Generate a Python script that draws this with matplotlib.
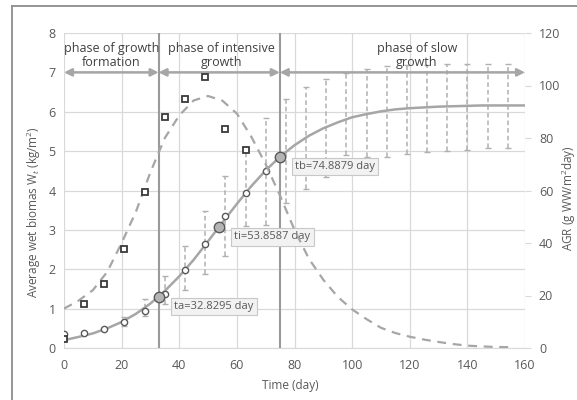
import matplotlib
matplotlib.use("Agg")
import matplotlib.pyplot as plt
from matplotlib.lines import Line2D

plt.rcParams['font.family'] = ['Open Sans', 'DejaVu Sans']
plt.rcParams['mathtext.fontset'] = 'custom'
plt.rcParams['mathtext.rm'] = 'Open Sans'
plt.rcParams['mathtext.it'] = 'Open Sans:italic'

# ---- data -----------------------------------------------------------------
# fitted growth curve W(t), kg/m2
t_fit = [0, 5, 10, 15, 20, 25, 30, 35, 40, 45, 50, 55, 60, 65, 70, 75, 80,
         85, 90, 95, 100, 105, 110, 115, 120, 125, 130, 135, 140, 145, 150,
         155, 160]
w_fit = [0.20, 0.28, 0.37, 0.50, 0.66, 0.87, 1.13, 1.45, 1.82, 2.24, 2.71,
         3.19, 3.66, 4.11, 4.51, 4.86, 5.15, 5.39, 5.58, 5.73, 5.86, 5.94,
         6.01, 6.06, 6.09, 6.11, 6.13, 6.14, 6.15, 6.16, 6.16, 6.16, 6.16]

# absolute growth rate curve, g WW/m2/day
t_agr = [0, 5, 10, 15, 20, 25, 30, 35, 40, 45, 50, 55, 60, 65, 70, 75, 80,
         85, 90, 95, 100, 105, 110, 115, 120, 125, 130, 135, 140, 145, 150,
         155]
agr_fit = [15.0, 18.0, 22.0, 29.0, 40.0, 52.0, 67.0, 80.0, 88.6, 94.3, 96.0,
           94.2, 89.3, 80.5, 70.0, 58.0, 45.0, 34.0, 26.0, 19.5, 14.7, 11.0,
           7.7, 5.7, 4.3, 3.2, 2.3, 1.5, 0.9, 0.6, 0.4, 0.3]

# measured mean biomass
t_obs = [0, 7, 14, 21, 28, 35, 42, 49, 56, 63, 70]
w_obs = [0.35, 0.37, 0.49, 0.66, 0.93, 1.36, 1.97, 2.64, 3.36, 3.94, 4.49]

# measured growth rate
t_sq = [0, 7, 14, 21, 28, 35, 42, 49, 56, 63]
agr_obs = [3.6, 16.6, 24.2, 37.7, 59.5, 88.1, 94.8, 103.4, 83.4, 75.4]

# spread of measured biomass (min / max)
err_t = [21, 28, 35, 42, 49, 56, 63, 70, 77, 84, 91, 98, 105, 112, 119, 126,
         133, 140, 147, 154]
err_lo = [0.55, 0.81, 1.12, 1.47, 1.88, 2.34, 3.10, 3.12, 3.69, 4.05, 4.35,
          4.90, 4.84, 4.84, 4.92, 4.98, 5.01, 5.04, 5.07, 5.07]
err_hi = [0.80, 1.24, 1.82, 2.59, 3.48, 4.37, 5.00, 5.83, 6.32, 6.64, 6.84,
          6.98, 7.08, 7.16, 7.18, 7.18, 7.21, 7.21, 7.21, 7.21]

# characteristic points of the growth curve
t_key = [32.8295, 53.8587, 74.8879]
w_key = [1.30, 3.07, 4.86]
key_names = ["ta", "ti", "tb"]

phase_bounds = [0, 32.8295, 74.8879, 160]
phase_names = ["phase of growth\nformation", "phase of intensive\ngrowth",
               "phase of slow\ngrowth"]
phase_text_x = [16.4, 54.5, 122.5]

x_ticks = [0, 20, 40, 60, 80, 100, 120, 140, 160]
y_ticks = [0, 1, 2, 3, 4, 5, 6, 7, 8]
y2_ticks = [0, 20, 40, 60, 80, 100, 120]

# ---- figure ---------------------------------------------------------------
GRID = '#d9d9d9'
TXT = '#595959'
LINE = '#a6a6a6'

fig = plt.figure(figsize=(5.77, 4.0), dpi=100)
ax = fig.add_axes([0.1109, 0.13, 0.799, 0.7875])
ax2 = ax.twinx()

ax.set_xlim(0, 160)
ax.set_ylim(0, 8)
ax2.set_ylim(0, 120)
ax.set_xticks(x_ticks)
ax.set_yticks(y_ticks)
ax2.set_yticks(y2_ticks)

ax.grid(True, color=GRID, lw=0.9)
ax.set_axisbelow(True)
for a in (ax, ax2):
    for s in ('top', 'left', 'right'):
        a.spines[s].set_visible(False)
    a.spines['bottom'].set_color(GRID)
ax2.spines['bottom'].set_visible(False)

ax.tick_params(axis='both', length=0, labelsize=9, labelcolor=TXT, pad=6)
ax.tick_params(axis='x', pad=8)
ax2.tick_params(axis='y', length=4, color=GRID, labelsize=9, labelcolor=TXT,
                pad=6)

# phase separators
for tb_ in t_key[::2]:
    ax.axvline(tb_, color='#9a9a9a', lw=1.5, zorder=2)

# AGR curve (right axis)
ax2.plot(t_agr, agr_fit, color=LINE, lw=1.6, ls=(0, (4, 3)), zorder=2)

# error bars
mid = [(lo + hi) / 2 for lo, hi in zip(err_lo, err_hi)]
yerr = [[m - lo for m, lo in zip(mid, err_lo)],
        [hi - m for m, hi in zip(mid, err_hi)]]
eb = ax.errorbar(err_t, mid, yerr=yerr, fmt='none', ecolor='#b0b0b0',
                 elinewidth=1.1, capsize=2.5, capthick=1.0, zorder=3)
eb[2][0].set_linestyle((0, (3, 2)))

# fitted biomass curve
ax.plot(t_fit, w_fit, color=LINE, lw=1.8, zorder=4)

# observations
ax.plot(t_obs, w_obs, ls='none', marker='o', ms=4.5, mfc='white',
        mec='#595959', mew=1.0, zorder=5)
ax2.plot(t_sq, agr_obs, ls='none', marker='s', ms=4.3, mfc='white',
         mec='#3a3a3a', mew=1.3, zorder=5)

# key points + callouts
ax.plot(t_key, w_key, ls='none', marker='o', ms=7.5, mfc='#b4b4b4',
        mec='#595959', mew=1.0, zorder=6)
for name, tk, wk in zip(key_names, t_key, w_key):
    ax.annotate(f"{name}={tk:g} day", xy=(tk, wk), xytext=(11, -7),
                textcoords='offset points', fontsize=8, color=TXT,
                va='center', ha='left', zorder=7,
                bbox=dict(boxstyle='square,pad=0.3', fc='#f2f2f2',
                          ec='#c8c8c8', lw=0.8))

# phase arrows and labels
for i, name in enumerate(phase_names):
    ax.annotate('', xy=(phase_bounds[i + 1], 7), xytext=(phase_bounds[i], 7),
                arrowprops=dict(arrowstyle='<|-|>', color=LINE, lw=1.8,
                                mutation_scale=11, shrinkA=0, shrinkB=0),
                zorder=3)
    ax.text(phase_text_x[i], 7.43, name, ha='center', va='center',
            fontsize=9, color='#404040', linespacing=1.15, zorder=7)

# axis titles
fig.text(290 / 577, 1 - 386 / 400, "Time (day)", ha='center', va='center',
         fontsize=8.5, color=TXT)
fig.text(34 / 577, 1 - 212 / 400, "Average wet biomas W$_t$ (kg/m$^2$)",
         rotation=90, ha='center', va='center', fontsize=8.5, color=TXT)
fig.text(569 / 577, 1 - 198 / 400, "AGR (g WW/m$^2$day)",
         rotation=90, ha='center', va='center', fontsize=8.5, color=TXT)

# outer frame (left and top edges)
fig.add_artist(Line2D([12 / 577, 12 / 577], [0, 1 - 6 / 400],
                      transform=fig.transFigure, color='#8c8c8c', lw=1.3))
fig.add_artist(Line2D([12 / 577, 1], [1 - 6 / 400, 1 - 6 / 400],
                      transform=fig.transFigure, color='#8c8c8c', lw=1.3))

fig.savefig('out.png', dpi=100)
